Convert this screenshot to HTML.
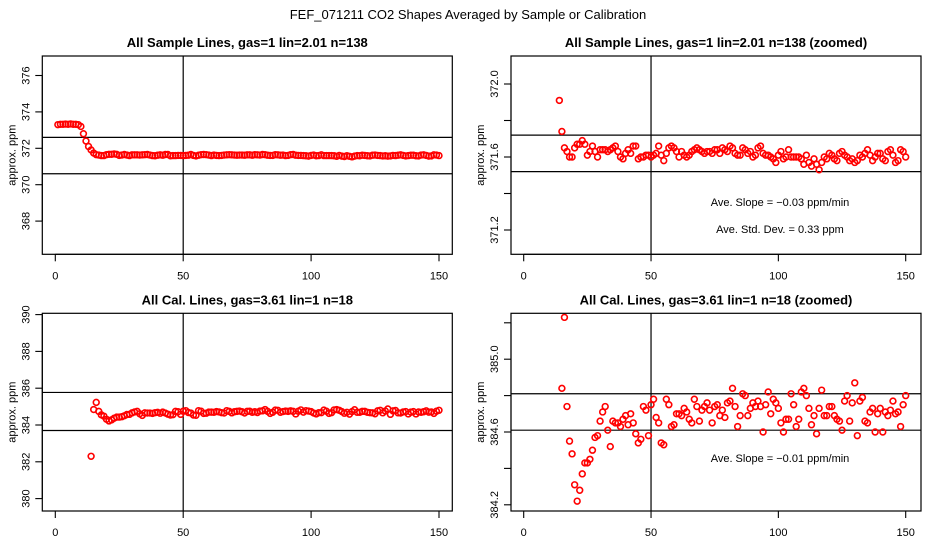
<!DOCTYPE html>
<html><head><meta charset="utf-8">
<style>
html,body{margin:0;padding:0;background:#fff;}
svg{display:block;font-family:"Liberation Sans",sans-serif;}
</style></head>
<body>
<svg id="chart" width="936" height="540" viewBox="0 0 936 540">
<text x="468" y="19" text-anchor="middle" font-size="13">FEF_071211  CO2 Shapes Averaged by Sample or Calibration</text>
</svg>
<script>
// ---- data ----
const sampleEarlyX = [1,2,3,4,5,6,7,8,9,10,11,12,13];
const sampleEarlyY = [373.3,373.32,373.32,373.33,373.32,373.34,373.32,373.32,373.3,373.2,372.8,372.4,372.1];
const sampleStartX = 14;
const sampleY = [371.91,371.74,371.65,371.63,371.60,371.60,371.65,371.67,371.67,371.69,371.67,371.61,371.63,371.66,371.63,371.60,371.64,371.64,371.64,371.63,371.64,371.65,371.66,371.63,371.60,371.59,371.62,371.64,371.62,371.66,371.66,371.59,371.60,371.60,371.61,371.61,371.60,371.61,371.62,371.66,371.61,371.58,371.62,371.65,371.66,371.65,371.63,371.60,371.63,371.61,371.60,371.61,371.63,371.64,371.65,371.64,371.63,371.62,371.63,371.63,371.62,371.64,371.64,371.62,371.65,371.64,371.63,371.66,371.65,371.62,371.61,371.61,371.65,371.64,371.62,371.63,371.60,371.61,371.65,371.66,371.62,371.61,371.61,371.60,371.59,371.57,371.61,371.63,371.59,371.60,371.64,371.60,371.60,371.60,371.60,371.59,371.56,371.61,371.57,371.55,371.59,371.56,371.53,371.57,371.60,371.59,371.62,371.61,371.59,371.58,371.62,371.63,371.61,371.60,371.58,371.59,371.57,371.58,371.61,371.60,371.62,371.64,371.61,371.58,371.60,371.62,371.62,371.59,371.58,371.63,371.64,371.61,371.57,371.58,371.64,371.63,371.60];
const calEarlyX = [14];
const calEarlyY = [382.3];
const calStartX = 15;
const calY = [384.84,385.23,384.74,384.55,384.48,384.31,384.22,384.28,384.37,384.43,384.43,384.45,384.50,384.57,384.58,384.66,384.71,384.74,384.61,384.52,384.66,384.65,384.65,384.63,384.67,384.69,384.64,384.70,384.65,384.59,384.54,384.56,384.74,384.72,384.58,384.75,384.78,384.68,384.65,384.54,384.53,384.78,384.75,384.63,384.64,384.70,384.70,384.69,384.73,384.71,384.67,384.65,384.78,384.74,384.66,384.72,384.74,384.76,384.72,384.65,384.74,384.75,384.69,384.72,384.68,384.76,384.77,384.84,384.74,384.63,384.69,384.81,384.80,384.69,384.73,384.76,384.74,384.77,384.74,384.60,384.75,384.82,384.70,384.78,384.76,384.73,384.65,384.60,384.67,384.67,384.81,384.75,384.63,384.67,384.82,384.84,384.80,384.73,384.64,384.69,384.59,384.73,384.83,384.69,384.69,384.74,384.74,384.69,384.67,384.66,384.61,384.77,384.80,384.66,384.76,384.87,384.58,384.77,384.79,384.66,384.65,384.71,384.73,384.60,384.70,384.73,384.60,384.71,384.69,384.72,384.77,384.70,384.71,384.63,384.75,384.80];
const xTicks = [0,50,100,150];
const p1Ticks = [368,370,372,374,376];
const p2Ticks = [371.2,371.4,371.6,371.8,372.0];
const p2Labels = ["371.2","","371.6","","372.0"];
const p3Ticks = [380,382,384,386,388,390];
const p4Ticks = [384.2,384.4,384.6,384.8,385.0,385.2];
const p4Labels = ["384.2","","384.6","","385.0",""];
const p1HLines = [372.6,370.6];
const p2HLines = [371.72,371.52];
const p3HLines = [385.77,383.7];
const p4HLines = [384.81,384.61];
const vLine = 50;

const NS = "http://www.w3.org/2000/svg";
const svg = document.getElementById('chart');
function mk(tag, attrs, parent){
  const e = document.createElementNS(NS, tag);
  for (const k in attrs) e.setAttribute(k, attrs[k]);
  (parent||svg).appendChild(e);
  return e;
}

function panel(cfg){
  const g = mk('g', {});
  
  
  const xs = v => cfg.x0 + (v) * (cfg.x150 - cfg.x0) / 150;
  const ys = v => cfg.yRefPx - (v - cfg.yRef) * cfg.pxPerUnit;
  const t = mk('text', {x:(cfg.L+cfg.R)/2, y:cfg.T-9, 'text-anchor':'middle', 'font-size':'13', 'font-weight':'bold'}, g);
  t.textContent = cfg.title;
  
  
  const cid = cfg.name + '-clip';
  const cp = mk('clipPath', {id:cid}, g);
  mk('rect', {x:cfg.L, y:cfg.T, width:cfg.R-cfg.L, height:cfg.B-cfg.T}, cp);
  const ref = mk('g', {'clip-path':'url(#'+cid+')', stroke:'#000', 'stroke-width':'1.2'}, g);
  
  
  cfg.hl.forEach(v => mk('line', {x1:cfg.L, x2:cfg.R, y1:ys(v), y2:ys(v)}, ref));
  mk('line', {x1:xs(vLine), x2:xs(vLine), y1:cfg.T, y2:cfg.B}, ref);
  const pts = mk('g', {'clip-path':'url(#'+cid+')', fill:'none', stroke:'#f00', 'stroke-width':'1.6'}, g);
  
  
  cfg.series.forEach(s => {
    s.y.forEach((v,i) => {
      const c = mk('circle', {cx:xs(s.x0 + i), cy:ys(v), r:2.9}, pts);
      
      
    });
  });
  const box = mk('rect', {x:cfg.L, y:cfg.T, width:cfg.R-cfg.L, height:cfg.B-cfg.T, fill:'none', stroke:'#000', 'stroke-width':'1.2'}, g);
  
  
  const xa = mk('g', {stroke:'#000', 'stroke-width':'1.1'}, g);
  
  
  mk('line', {x1:xs(xTicks[0]), x2:xs(xTicks[xTicks.length-1]), y1:cfg.B, y2:cfg.B}, xa);
  xTicks.forEach(v => {
    mk('line', {x1:xs(v), x2:xs(v), y1:cfg.B, y2:cfg.B+7}, xa);
    const l = mk('text', {x:xs(v), y:cfg.B+25, 'text-anchor':'middle', 'font-size':'11', stroke:'none'}, xa);
    l.textContent = String(v);
    
    
  });
  const ya = mk('g', {stroke:'#000', 'stroke-width':'1.1'}, g);
  
  
  const yt = cfg.yTicks;
  mk('line', {x1:cfg.L, x2:cfg.L, y1:ys(yt[0]), y2:ys(yt[yt.length-1])}, ya);
  yt.forEach((v,i) => {
    mk('line', {x1:cfg.L-7, x2:cfg.L, y1:ys(v), y2:ys(v)}, ya);
    const lab = cfg.yLabels ? cfg.yLabels[i] : String(v);
    if (lab) {
      const lx = cfg.L - 16, ly = ys(v);
      const l = mk('text', {x:lx, y:ly, 'text-anchor':'middle', 'dominant-baseline':'central', 'font-size':'11', stroke:'none', transform:'rotate(-90 '+lx+' '+ly+')'}, ya);
      l.textContent = lab;
      
      
    }
  });
  const ax = cfg.L - 30, ay = (cfg.T+cfg.B)/2;
  const at = mk('text', {x:ax, y:ay, 'text-anchor':'middle', 'dominant-baseline':'central', 'font-size':'11', transform:'rotate(-90 '+ax+' '+ay+')'}, g);
  at.textContent = 'approx. ppm';
  
  
  (cfg.notes||[]).forEach(n => {
    const e = mk('text', {x:n.x, y:n.y, 'text-anchor':'middle', 'font-size':'11'}, g);
    e.textContent = n.t;
    
    
  });
}

panel({name:'panel-sample', title:'All Sample Lines, gas=1 lin=2.01 n=138',
  L:42.3, R:452.3, T:56, B:254.3, x0:55.3, x150:439,
  yRef:372, yRefPx:148.3, pxPerUnit:18.2, yTicks:p1Ticks, hl:p1HLines,
  series:[{x0:sampleEarlyX[0], y:sampleEarlyY},{x0:sampleStartX, y:sampleY}]});
panel({name:'panel-sample-zoomed', title:'All Sample Lines, gas=1 lin=2.01 n=138 (zoomed)',
  L:511, R:921, T:56, B:254.3, x0:523.7, x150:905.7,
  yRef:371.6, yRefPx:157, pxPerUnit:182.5, yTicks:p2Ticks, yLabels:p2Labels, hl:p2HLines,
  series:[{x0:sampleStartX, y:sampleY}],
  notes:[{t:'Ave. Slope =  \u22120.03  ppm/min', x:780, y:206, name:'slope-note'},
         {t:'Ave. Std. Dev. =  0.33  ppm', x:780, y:233, name:'stddev-note'}]});
panel({name:'panel-cal', title:'All Cal. Lines, gas=3.61 lin=1 n=18',
  L:42.3, R:452.3, T:313.3, B:511, x0:55.3, x150:439,
  yRef:384, yRefPx:425, pxPerUnit:18.4, yTicks:p3Ticks, hl:p3HLines,
  series:[{x0:calEarlyX[0], y:calEarlyY},{x0:calStartX, y:calY}]});
panel({name:'panel-cal-zoomed', title:'All Cal. Lines, gas=3.61 lin=1 n=18 (zoomed)',
  L:511, R:921, T:313.3, B:511, x0:523.7, x150:905.7,
  yRef:384.6, yRefPx:432, pxPerUnit:182, yTicks:p4Ticks, yLabels:p4Labels, hl:p4HLines,
  series:[{x0:calStartX, y:calY}],
  notes:[{t:'Ave. Slope =  \u22120.01  ppm/min', x:780, y:462, name:'slope-note'}]});
</script>
</body></html>
